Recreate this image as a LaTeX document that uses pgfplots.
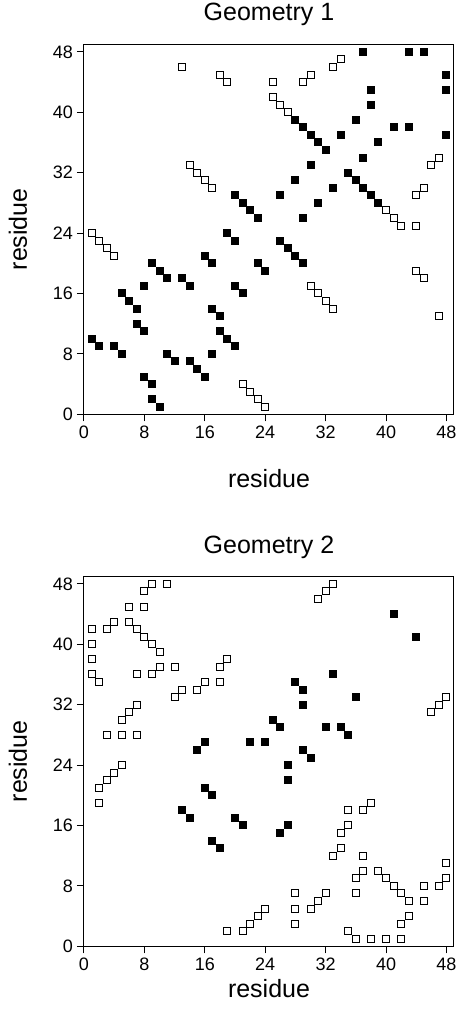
\documentclass[border=0pt]{standalone}
\usepackage{fontspec}
\setmainfont{Liberation Sans}
\usepackage{pgfplots}
\pgfplotsset{compat=1.18}

\pgfplotsset{
  contactmap/.style={
    width=370pt, height=370pt, scale only axis,
    xmin=0, xmax=49, ymin=0, ymax=49,
    xtick={0,8,...,48}, ytick={0,8,...,48},
    tick align=outside, xtick pos=left, ytick pos=left,
    major tick length=7pt,
    axis line style={line width=1pt},
    every tick/.style={black, line width=1pt},
    /pgf/number format/assume math mode=true,
    tick label style={font=\fontsize{18}{20}\selectfont, inner sep=0pt},
    xticklabel style={yshift=-4pt},
    yticklabel style={xshift=-4pt},
    title style={font=\fontsize{25}{28}\selectfont, at={(0.5,1)}, anchor=base},
    xlabel={residue}, ylabel={residue},
    every axis y label/.style={at={(axis description cs:0,0.5)}, xshift=-57pt,
      rotate=90, anchor=base, font=\fontsize{25}{28}\selectfont},
  },
  openpt/.style={only marks, mark=square*, mark size=3.5pt,
    mark options={draw=black, fill=white, line width=1pt}},
  fullpt/.style={only marks, mark=square*, mark size=3.5pt,
    mark options={draw=black, fill=black, line width=1pt}},
}

\begin{document}
\begin{tikzpicture}
\path[use as bounding box] (-84pt,-606.7pt) rectangle (374pt,414.3pt);

% Geometry 1
\begin{axis}[contactmap, at={(0,0)}, anchor=south west,
  title={Geometry 1}, title style={yshift=18pt},
  every axis x label/.style={at={(axis description cs:0.5,0)}, anchor=base,
    yshift=-73pt, font=\fontsize{25}{28}\selectfont}]
\addplot[openpt] coordinates {
  (1,24) (2,23) (3,22) (4,21) (13,46) (18,45) (19,44)
  (14,33) (15,32) (16,31) (17,30) (21,4) (22,3) (23,2) (24,1)
  (25,44) (25,42) (26,41) (27,40) (29,44) (30,45) (33,46) (34,47)
  (30,17) (31,16) (32,15) (33,14) (40,27) (41,26) (42,25) (44,25)
  (44,29) (45,30) (46,33) (47,34) (44,19) (45,18) (47,13)
};
\addplot[fullpt] coordinates {
  (1,10) (2,9) (4,9) (5,8) (5,16) (6,15) (7,14) (7,12) (8,11) (8,17)
  (8,5) (9,4) (9,2) (10,1) (9,20) (10,19) (11,18) (11,8) (12,7)
  (13,18) (14,17) (14,7) (15,6) (16,5) (16,21) (17,20) (17,14) (18,13)
  (18,11) (19,10) (20,9) (17,8) (19,24) (20,23) (20,17) (21,16)
  (23,20) (24,19) (20,29) (21,28) (22,27) (23,26) (26,23) (27,22)
  (28,21) (29,20) (26,29) (29,26) (28,31) (31,28) (30,33) (33,30)
  (28,39) (29,38) (30,37) (31,36) (32,35) (34,37) (35,32) (36,31)
  (37,30) (38,29) (39,28) (36,39) (39,36) (37,34) (38,41) (38,43)
  (41,38) (43,38) (37,48) (43,48) (45,48) (48,45) (48,43) (48,37)
};
\end{axis}

% Geometry 2
\begin{axis}[contactmap, at={(0,-532pt)}, anchor=south west,
  title={Geometry 2}, title style={yshift=17pt},
  every axis x label/.style={at={(axis description cs:0.5,0)}, anchor=base,
    yshift=-51pt, font=\fontsize{25}{28}\selectfont}]
\addplot[openpt] coordinates {
  (8,47) (9,48) (11,48) (6,45) (8,45) (3,42) (4,43) (6,43) (7,42)
  (8,41) (9,40) (10,39) (1,42) (1,40) (1,38) (1,36) (2,35) (7,36)
  (9,36) (10,37) (12,37) (12,33) (13,34) (15,34) (16,35) (18,35)
  (18,37) (19,38) (5,30) (6,31) (7,32) (3,28) (5,28) (7,28)
  (2,19) (2,21) (3,22) (4,23) (5,24) (31,46) (32,47) (33,48)
  (46,31) (47,32) (48,33) (19,2) (21,2) (22,3) (23,4) (24,5)
  (28,7) (28,5) (28,3) (30,5) (31,6) (32,7) (34,13) (33,12)
  (34,15) (35,16) (35,18) (37,18) (38,19) (37,12) (36,9) (37,10)
  (36,7) (39,10) (40,9) (41,8) (42,7) (43,6) (45,8) (45,6) (47,8)
  (48,9) (48,11) (43,4) (42,3) (35,2) (36,1) (38,1) (40,1) (42,1)
};
\addplot[fullpt] coordinates {
  (13,18) (14,17) (15,26) (16,27) (16,21) (17,20) (17,14) (18,13)
  (20,17) (21,16) (22,27) (24,27) (25,30) (26,29) (26,15) (27,16)
  (27,24) (27,22) (28,35) (29,34) (29,32) (29,26) (30,25) (32,29)
  (33,36) (34,29) (35,28) (36,33) (41,44) (44,41)
};
\end{axis}
\end{tikzpicture}
\end{document}
